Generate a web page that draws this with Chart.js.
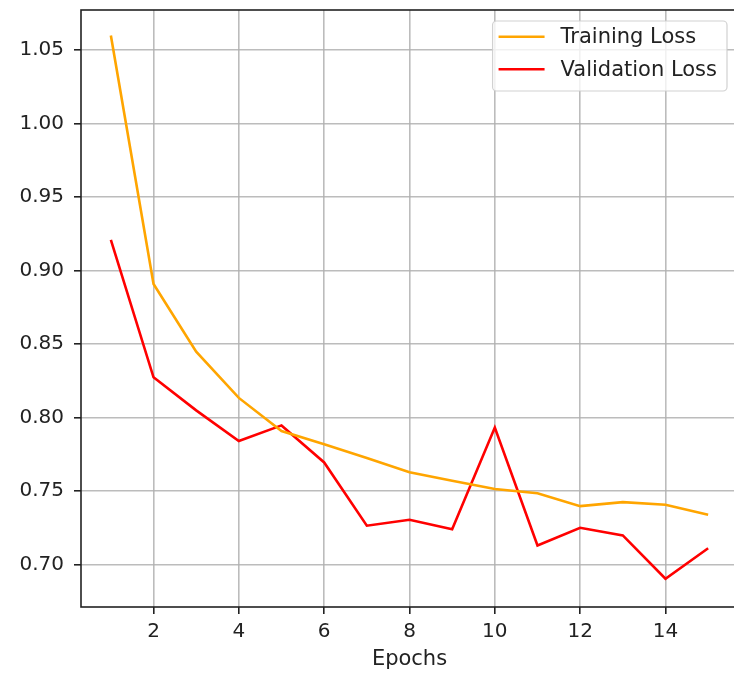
<!DOCTYPE html>
<html>
<head>
<meta charset="utf-8">
<script src="https://cdn.jsdelivr.net/npm/chart.js@4/dist/chart.umd.min.js"></script>
<style>
html,body{margin:0;padding:0;background:#fff;overflow:hidden;width:734px;height:674px;}
#wrap{position:absolute;left:0;top:0;width:734px;height:674px;overflow:hidden;}
#c{position:absolute;left:0;top:0;}
</style>
</head>
<body>
<div id="wrap"><canvas id="c" width="745" height="674"></canvas></div>
<script>
const epochs = [1,2,3,4,5,6,7,8,9,10,11,12,13,14,15];
const trainLoss = [1.060,0.891,0.845,0.8135,0.791,0.782,0.7726,0.7629,0.7572,0.7516,0.7487,0.7399,0.7426,0.7408,0.734];
const valLoss = [0.921,0.8275,0.805,0.7842,0.7948,0.7696,0.7266,0.7306,0.7241,0.7933,0.7131,0.7252,0.720,0.6905,0.7113];
const xTicks = [2,4,6,8,10,12,14];
const yTicks = [0.70,0.75,0.80,0.85,0.90,0.95,1.00,1.05];
const seriesNames = ['Training Loss','Validation Loss'];
const xTitle = 'Epochs';

const FONT = '"DejaVu Sans", sans-serif';

const framePlugin = {
  id: 'frame',
  afterDatasetsDraw(chart) {
    const {ctx, chartArea: a} = chart;
    ctx.save();
    ctx.strokeStyle = '#222';
    ctx.lineWidth = 1.6;
    ctx.strokeRect(a.left, a.top, a.right - a.left, a.bottom - a.top);
    ctx.restore();
  },
  afterDraw(chart) {
    const {ctx, chartArea: a} = chart;
    ctx.save();
    ctx.font = '21px ' + FONT;
    const ds = chart.data.datasets;
    let maxW = 0;
    ds.forEach(d => { maxW = Math.max(maxW, ctx.measureText(d.label).width); });
    const w = 6 + 46 + 16 + maxW + 10;
    const right = a.right - 11;
    const left = right - w;
    const top = a.top + 11;
    const h = 70;
    ctx.beginPath();
    ctx.roundRect(left, top, w, h, 4);
    ctx.fillStyle = 'rgba(255,255,255,0.8)';
    ctx.fill();
    ctx.strokeStyle = 'rgba(204,204,204,0.9)';
    ctx.lineWidth = 1.2;
    ctx.stroke();
    ds.forEach((d, i) => {
      const cy = top + 15.7 + i * 32.6;
      ctx.beginPath();
      ctx.moveTo(left + 6, cy);
      ctx.lineTo(left + 52, cy);
      ctx.strokeStyle = d.borderColor;
      ctx.lineWidth = 2.6;
      ctx.stroke();
      ctx.fillStyle = '#222';
      ctx.textBaseline = 'middle';
      ctx.textAlign = 'left';
      ctx.fillText(d.label, left + 68, cy + 1);
    });
    ctx.restore();
  }
};

const gridOpts = {
  color: 'rgba(176,176,176,0.85)',
  lineWidth: 1.6,
  drawTicks: true,
  tickLength: 7,
  tickColor: '#222',
  tickWidth: 1.6
};

new Chart(document.getElementById('c'), {
  type: 'line',
  data: {
    datasets: [
      {
        label: seriesNames[0],
        data: epochs.map((e, i) => ({x: e, y: trainLoss[i]})),
        borderColor: '#FFA500',
        borderWidth: 2.6,
        pointRadius: 0,
        tension: 0,
        fill: false
      },
      {
        label: seriesNames[1],
        data: epochs.map((e, i) => ({x: e, y: valLoss[i]})),
        borderColor: '#FF0000',
        borderWidth: 2.6,
        pointRadius: 0,
        tension: 0,
        fill: false
      }
    ]
  },
  options: {
    responsive: false,
    animation: false,
    devicePixelRatio: 1,
    layout: {padding: {left: 0, right: 7, top: 10, bottom: 0}},
    plugins: {legend: {display: false}, tooltip: {enabled: false}},
    scales: {
      x: {
        type: 'linear',
        min: 0.3,
        max: 15.7,
        grid: gridOpts,
        border: {display: false},
        afterBuildTicks: s => { s.ticks = xTicks.map(v => ({value: v})); },
        afterFit: s => { s.height = 67; s.paddingLeft = 0; s.paddingRight = 0; },
        ticks: {
          font: {family: FONT, size: 20},
          color: '#222',
          padding: 6,
          maxRotation: 0,
          callback: v => String(v)
        },
        title: {
          display: true,
          text: xTitle,
          font: {family: FONT, size: 21},
          color: '#222',
          padding: {top: 0, bottom: 2}
        }
      },
      y: {
        type: 'linear',
        min: 0.6713,
        max: 1.0773,
        grid: gridOpts,
        border: {display: false},
        afterBuildTicks: s => { s.ticks = yTicks.map(v => ({value: v})); },
        afterFit: s => { s.width = 81; s.paddingTop = 0; s.paddingBottom = 0; },
        ticks: {
          font: {family: FONT, size: 20},
          color: '#222',
          padding: 10,
          callback: v => Number(v).toFixed(2)
        }
      }
    }
  },
  plugins: [framePlugin]
});
</script>
</body>
</html>
